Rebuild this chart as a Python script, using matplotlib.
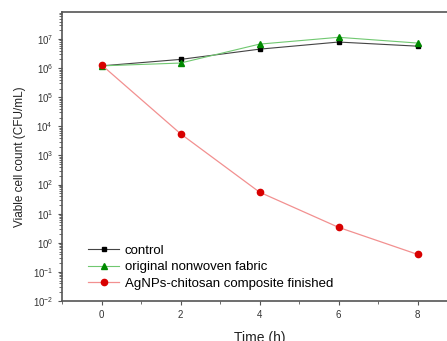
import matplotlib
matplotlib.use("Agg")
import matplotlib.pyplot as plt
import matplotlib.ticker as mticker
import numpy as np

plt.rcParams['font.family'] = ['Liberation Sans', 'DejaVu Sans']

time = [0, 2, 4, 6, 8]
control = [1.2e6, 2.0e6, 4.5e6, 7.9e6, 5.7e6]
original = [1.2e6, 1.5e6, 6.7e6, 1.15e7, 7.3e6]
agnps = [1.3e6, 5.6e3, 55, 3.4, 0.4]
labels = ["control", "original nonwoven fabric", "AgNPs-chitosan composite finished"]

fig = plt.figure(figsize=(4.47, 3.41), dpi=100)
ax = fig.add_axes([62/447, (341-301)/341, (457-62)/447, (301-12)/341])

ax.plot(time, control, color='#444444', lw=0.8, marker='s', ms=3.5, mfc='black', mec='black', label=labels[0])
ax.plot(time, original, color='#70c870', lw=0.8, marker='^', ms=4.5, mfc='#008a00', mec='#008a00', label=labels[1])
ax.plot(time, agnps, color='#f29090', lw=0.9, marker='o', ms=4.5, mfc='#d80000', mec='#d80000', label=labels[2])

ax.set_yscale('log')
ax.set_xlim(-1, 9)
ax.set_ylim(1e-2, 10**7.93)
ax.set_xticks([0, 2, 4, 6, 8])
ax.xaxis.set_minor_locator(mticker.MultipleLocator(1))
ax.yaxis.set_major_locator(mticker.LogLocator(base=10, numticks=20))
ax.yaxis.set_minor_locator(mticker.LogLocator(base=10, subs=np.arange(2, 10), numticks=20))
ax.yaxis.set_minor_formatter(mticker.NullFormatter())

for s in ax.spines.values():
    s.set_color('#555555')
    s.set_linewidth(1.2)

ax.tick_params(axis='both', which='major', direction='out', labelsize=7, colors='#555555', labelcolor='#333333', length=3, width=0.8)
ax.tick_params(axis='both', which='minor', direction='out', colors='#555555', length=2, width=0.6)

ax.set_xlabel("Time (h)", fontsize=10, color='#222222', labelpad=8)
ax.set_ylabel("Viable cell count (CFU/mL)", fontsize=8.5, color='#222222', labelpad=5)

leg = ax.legend(loc='lower left', bbox_to_anchor=(0.045, 0.012), frameon=False, fontsize=9.5,
                handlelength=2.4, handletextpad=0.4, labelspacing=0.32, borderaxespad=0.2)

fig.savefig("out.png", dpi=100)
